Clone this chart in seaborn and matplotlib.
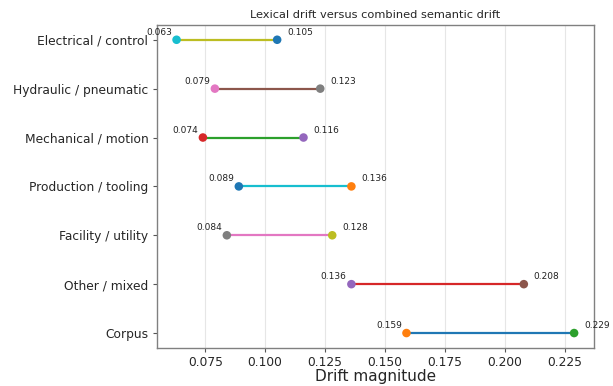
import matplotlib
matplotlib.use("Agg")
import matplotlib.pyplot as plt
import seaborn as sns
import pandas as pd

# categories listed bottom to top
categories = ['Corpus', 'Other / mixed', 'Facility / utility', 'Production / tooling',
              'Mechanical / motion', 'Hydraulic / pneumatic', 'Electrical / control']
lexical = [0.159, 0.136, 0.084, 0.089, 0.074, 0.079, 0.063]
semantic = [0.229, 0.208, 0.128, 0.136, 0.116, 0.123, 0.105]

df = pd.DataFrame({'category': categories, 'lexical': lexical, 'semantic': semantic})
df['pos'] = range(len(df))

sns.set_style("whitegrid")
plt.rcParams['font.family'] = ['DejaVu Sans']
pal = sns.color_palette("tab10")

fig = plt.figure(figsize=(6.13, 3.86), dpi=100)
ax = fig.add_axes([0.2556, 0.0992, 0.969 - 0.2556, 0.935 - 0.0992])

k = 0
for _, row in df.iterrows():
    y = row['pos']
    seg = pd.DataFrame({'x': [row['lexical'], row['semantic']], 'y': [y, y]})
    sns.lineplot(data=seg, x='x', y='y', color=pal[k % 10], linewidth=1.6, ax=ax,
                 estimator=None, sort=False, zorder=2)
    sns.scatterplot(x=[row['lexical']], y=[y], color=pal[(k + 1) % 10], s=38,
                    edgecolor='none', ax=ax, zorder=3)
    sns.scatterplot(x=[row['semantic']], y=[y], color=pal[(k + 2) % 10], s=38,
                    edgecolor='none', ax=ax, zorder=3)
    ax.annotate(f"{row['lexical']:.3f}", (row['lexical'], y), xytext=(-3.4, 3.6),
                textcoords='offset points', ha='right', va='baseline', fontsize=6.5,
                color='#222222')
    ax.annotate(f"{row['semantic']:.3f}", (row['semantic'], y), xytext=(7.2, 3.6),
                textcoords='offset points', ha='left', va='baseline', fontsize=6.5,
                color='#222222')
    k += 3

ax.set_yticks(df['pos'])
ax.set_yticklabels(df['category'], fontsize=8.8)
ax.set_ylim(-0.3, len(df) - 0.7)
ax.set_xlim(0.0547, 0.2373)
ax.set_xticks([0.075, 0.1, 0.125, 0.15, 0.175, 0.2, 0.225])
ax.set_xticklabels([f"{t:.3f}" for t in ax.get_xticks()], fontsize=8.8)
ax.grid(axis='y', visible=False)
ax.grid(axis='x', color='#e6e6e6', linewidth=0.8)
ax.tick_params(axis='y', length=3, color='#555555', left=True, pad=3)
ax.tick_params(axis='x', length=3, color='#555555', bottom=True, pad=3)
for s in ax.spines.values():
    s.set_color('#808080')
    s.set_linewidth(1.0)
ax.set_xlabel("Drift magnitude", fontsize=11, labelpad=0)
ax.set_ylabel("")
ax.set_title("Lexical drift versus combined semantic drift", fontsize=8.2, pad=5)

fig.savefig("out.png", dpi=100)
